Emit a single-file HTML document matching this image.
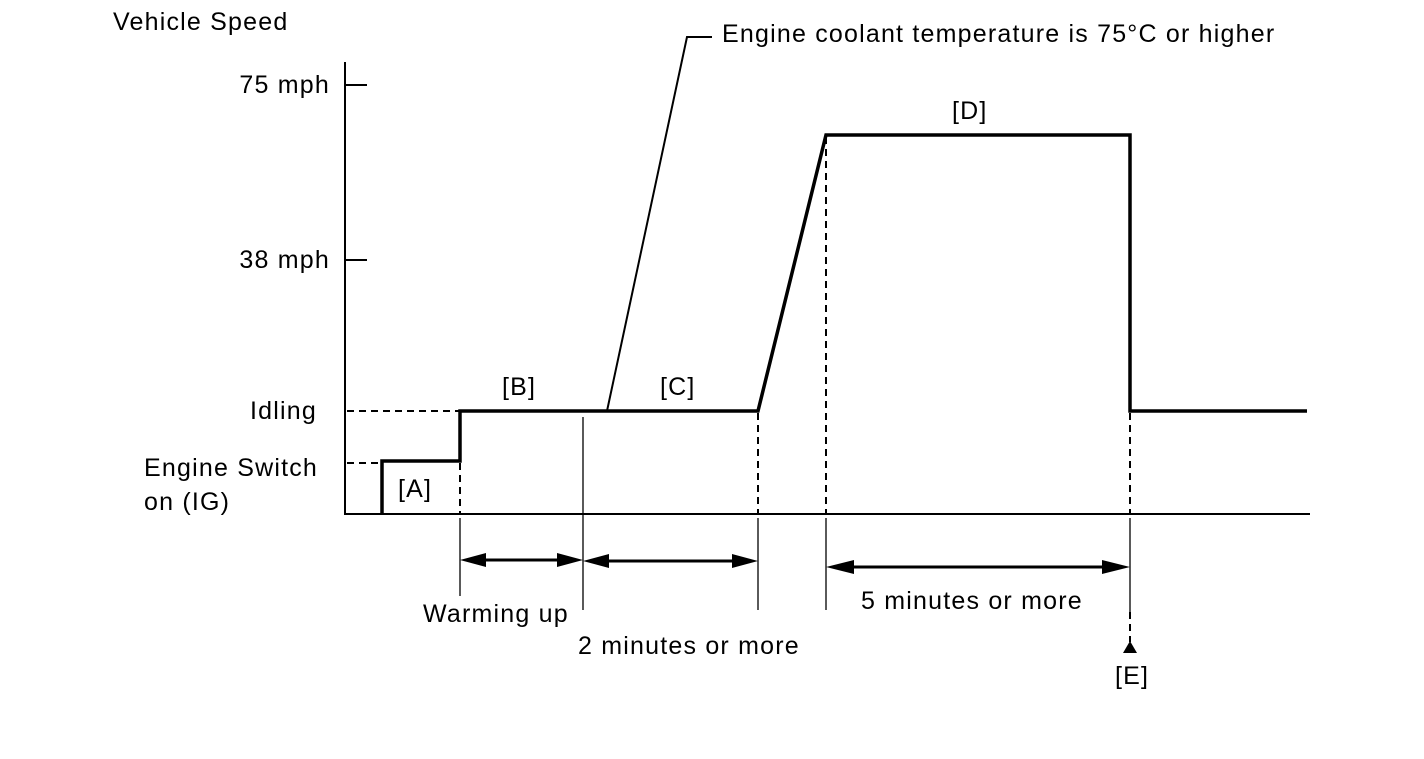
<!DOCTYPE html>
<html><head><style>body{margin:0;background:#fff}svg{display:block}text{font-family:"Liberation Sans",sans-serif;font-size:25px;letter-spacing:1.2px;fill:#000}</style></head>
<body>
<svg width="1424" height="759" viewBox="0 0 1424 759">
<g stroke="#000" fill="none">
<line x1="345" y1="62" x2="345" y2="515" stroke-width="2"/>
<line x1="344" y1="514" x2="1310" y2="514" stroke-width="2"/>
<line x1="345" y1="85" x2="367" y2="85" stroke-width="2"/>
<line x1="345" y1="260" x2="367" y2="260" stroke-width="2"/>
<polyline points="382,514 382,461 460,461 460,411 758,411 826,135 1130,135 1130,411 1307,411" stroke-width="3.5"/>
<polyline points="607,411 687,37 712,37" stroke-width="2"/>
<g stroke-width="2" stroke-dasharray="7,5">
<line x1="347" y1="411" x2="460" y2="411"/>
<line x1="347" y1="463" x2="380" y2="463"/>
<line x1="460" y1="463" x2="460" y2="514"/>
<line x1="758" y1="413" x2="758" y2="514"/>
<line x1="826" y1="137" x2="826" y2="514"/>
<line x1="1130" y1="413" x2="1130" y2="514"/>
<line x1="1130" y1="612" x2="1130" y2="642"/>
</g>
<g stroke-width="1.3">
<line x1="460" y1="518" x2="460" y2="596"/>
<line x1="583" y1="417" x2="583" y2="610"/>
<line x1="758" y1="518" x2="758" y2="610"/>
<line x1="826" y1="518" x2="826" y2="610"/>
<line x1="1130" y1="518" x2="1130" y2="612"/>
</g>
<g stroke-width="3">
<line x1="466" y1="560" x2="577" y2="560"/>
<line x1="589" y1="561" x2="752" y2="561"/>
<line x1="832" y1="567" x2="1124" y2="567"/>
</g>
</g>
<g fill="#000">
<path d="M460,560 L486,553 L486,567Z"/><path d="M583,560 L557,553 L557,567Z"/>
<path d="M583,561 L609,554 L609,568Z"/><path d="M758,561 L732,554 L732,568Z"/>
<path d="M826,567 L854,560 L854,574Z"/><path d="M1130,567 L1102,560 L1102,574Z"/>
<path d="M1130,641 L1123,653 L1137,653Z"/>
</g>
<text x="113" y="30">Vehicle Speed</text>
<text x="330" y="93" text-anchor="end">75 mph</text>
<text x="330" y="268" text-anchor="end">38 mph</text>
<text x="250" y="419">Idling</text>
<text x="144" y="476">Engine Switch</text>
<text x="144" y="510">on (IG)</text>
<text x="398" y="497">[A]</text>
<text x="502" y="395">[B]</text>
<text x="660" y="395">[C]</text>
<text x="952" y="119">[D]</text>
<text x="722" y="42">Engine coolant temperature is 75°C or higher</text>
<text x="423" y="622">Warming up</text>
<text x="578" y="654">2 minutes or more</text>
<text x="861" y="609">5 minutes or more</text>
<text x="1115" y="684">[E]</text>
</svg>
</body></html>
